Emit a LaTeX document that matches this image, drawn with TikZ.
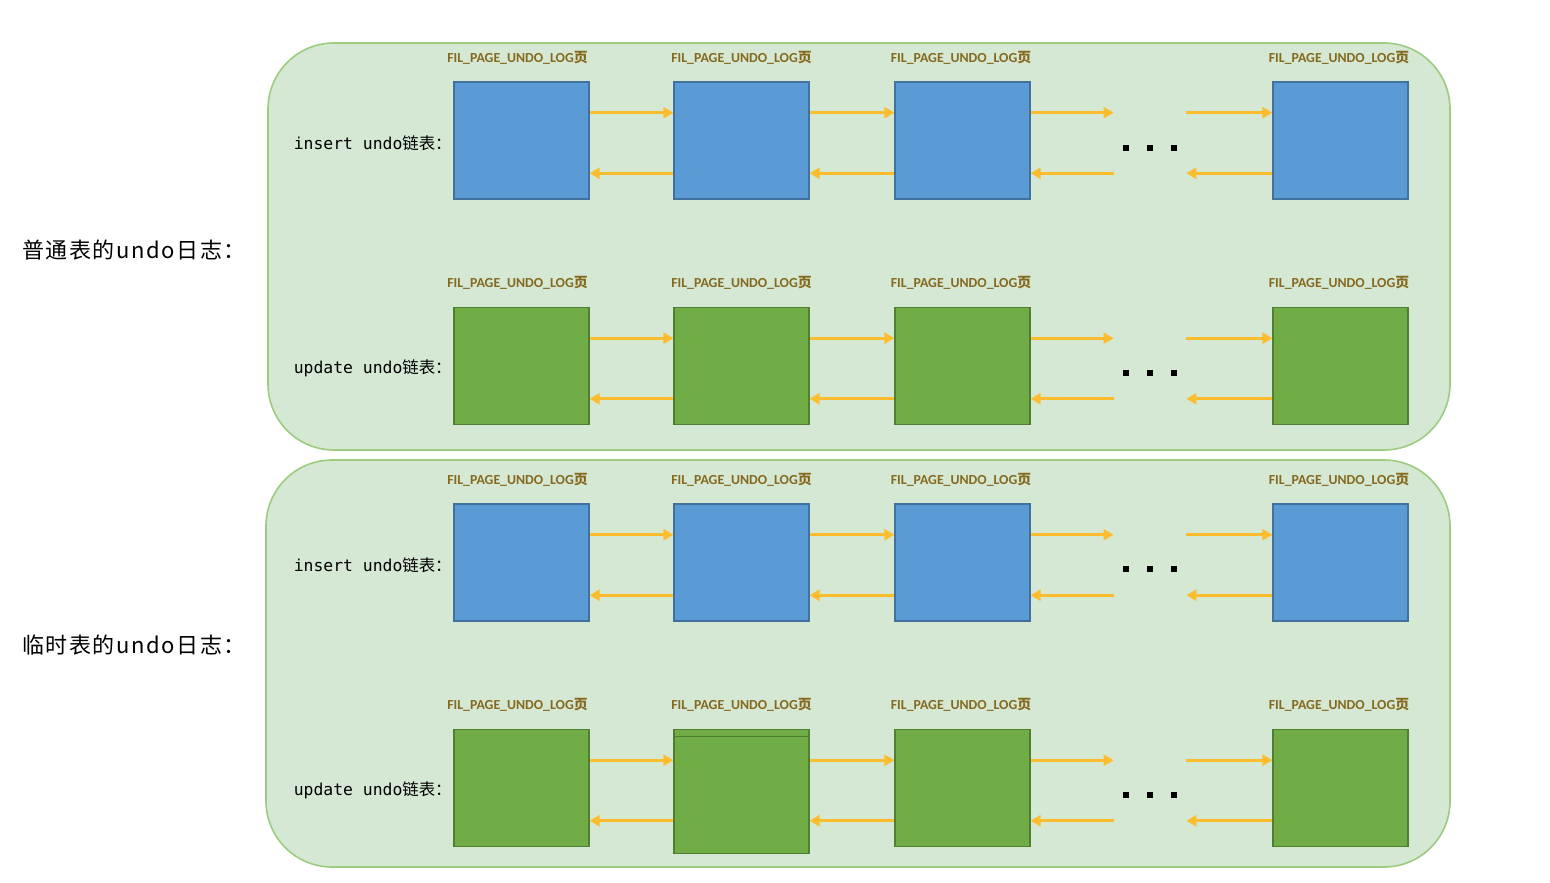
\documentclass[tikz,border=0pt]{standalone}
\usepackage{fontspec}
\setmainfont{Carlito}
\newfontfamily\cjk{Noto Sans CJK SC}
\newfontfamily\cjkspaced[LetterSpace=7]{Noto Sans CJK SC}
\newfontfamily\monof{DejaVu Sans Mono}
\usetikzlibrary{arrows.meta,calc}
\definecolor{ctrfill}{HTML}{D5E8D4}
\definecolor{ctrline}{HTML}{9CCC7F}
\definecolor{bluefill}{HTML}{5B9BD5}
\definecolor{blueline}{HTML}{41719C}
\definecolor{greenfill}{HTML}{70AD47}
\definecolor{greenline}{HTML}{507E32}
\definecolor{arrcol}{HTML}{FBBC2E}
\definecolor{lblcol}{HTML}{85691F}
\tikzset{
  container/.style={draw=ctrline, fill=ctrfill, line width=0.8pt, rounded corners=33pt},
  bluebox/.style={draw=blueline, fill=bluefill, line width=0.6pt, minimum width=67.5pt, minimum height=58.5pt, inner sep=0pt},
  greenbox/.style={draw=greenline, fill=greenfill, line width=0.6pt, minimum width=67.5pt, minimum height=58.5pt, inner sep=0pt},
  arr/.style={draw=arrcol, line width=1.3pt, -{Triangle[length=5pt,width=5.5pt]}},
  pagelbl/.style={text=lblcol, font=\bfseries\fontsize{6.9}{7}\selectfont, inner sep=0pt},
  rowlbl/.style={anchor=east, inner sep=0pt, font=\fontsize{8.2}{9}\selectfont},
  sidelbl/.style={anchor=west, inner sep=0pt, font=\cjkspaced\fontsize{11}{12}\selectfont},
  dotsq/.style={fill=black, minimum size=3.2pt, inner sep=0pt},
}
\newcommand{\pagetxt}{FIL\_PAGE\_UNDO\_LOG{\cjk\bfseries 页}}
\begin{document}
\begin{tikzpicture}[x=0.5pt,y=-0.5pt]
\useasboundingbox[fill=white] (0,0) rectangle (1550,882);
% containers
\draw[container] (268,43) rectangle (1450,450);
\draw[container] (266,460) rectangle (1450,867);
% side labels
\node[sidelbl] (s1) at (22,250) {普通表的undo日志：};
\node[sidelbl] (s2) at (22,645) {临时表的undo日志：};
% row labels
\node[rowlbl] (r1) at (452,143) {{\monof insert undo}{\cjk 链表：}};
\node[rowlbl] (r2) at (452,368) {{\monof update undo}{\cjk 链表：}};
\node[rowlbl] (r3) at (452,565) {{\monof insert undo}{\cjk 链表：}};
\node[rowlbl] (r4) at (452,790) {{\monof update undo}{\cjk 链表：}};
% boxes
\foreach \r/\y/\st in {1/140.5/bluebox, 2/366/greenbox, 3/562.5/bluebox, 4/788/greenbox}{
  \foreach \c/\x in {1/521.5, 2/741.5, 3/962.5, 4/1340.5}{
    \node[\st] (b\r\c) at (\x,\y) {};
  }
}
% odd overlapped box in row 4 column 2
\node[greenbox] (b42x) at (741.5,795) {};
% page labels
\foreach \r/\y in {1/58, 2/283, 3/480, 4/705}{
  \foreach \c/\x in {1/517.5, 2/741.5, 3/961, 4/1339}{
    \node[pagelbl] (p\r\c) at (\x,\y) {\pagetxt};
  }
}
% dots gap coordinates and dots
\foreach \r/\dy in {1/148, 2/373, 3/569, 4/795}{
  \coordinate (gl\r u) at ($(b\r3.north east)!0.265!(b\r3.south east)+(83,0)$);
  \coordinate (gl\r d) at ($(b\r3.north east)!0.777!(b\r3.south east)+(83,0)$);
  \coordinate (gr\r u) at ($(b\r4.north west)!0.265!(b\r4.south west)+(-86,0)$);
  \coordinate (gr\r d) at ($(b\r4.north west)!0.777!(b\r4.south west)+(-86,0)$);
  \node[dotsq] (d\r a) at (1126,\dy) {};
  \node[dotsq] (d\r b) at (1150,\dy) {};
  \node[dotsq] (d\r c) at (1174,\dy) {};
}
% arrows
\foreach \r in {1,2,3,4}{
  \foreach \a/\b in {1/2, 2/3}{
    \draw[arr] ($(b\r\a.north east)!0.265!(b\r\a.south east)$) -- ($(b\r\b.north west)!0.265!(b\r\b.south west)$);
    \draw[arr] ($(b\r\b.north west)!0.777!(b\r\b.south west)$) -- ($(b\r\a.north east)!0.777!(b\r\a.south east)$);
  }
  \draw[arr] ($(b\r3.north east)!0.265!(b\r3.south east)$) -- (gl\r u);
  \draw[arr] (gl\r d) -- ($(b\r3.north east)!0.777!(b\r3.south east)$);
  \draw[arr] (gr\r u) -- ($(b\r4.north west)!0.265!(b\r4.south west)$);
  \draw[arr] ($(b\r4.north west)!0.777!(b\r4.south west)$) -- (gr\r d);
}
\end{tikzpicture}
\end{document}
